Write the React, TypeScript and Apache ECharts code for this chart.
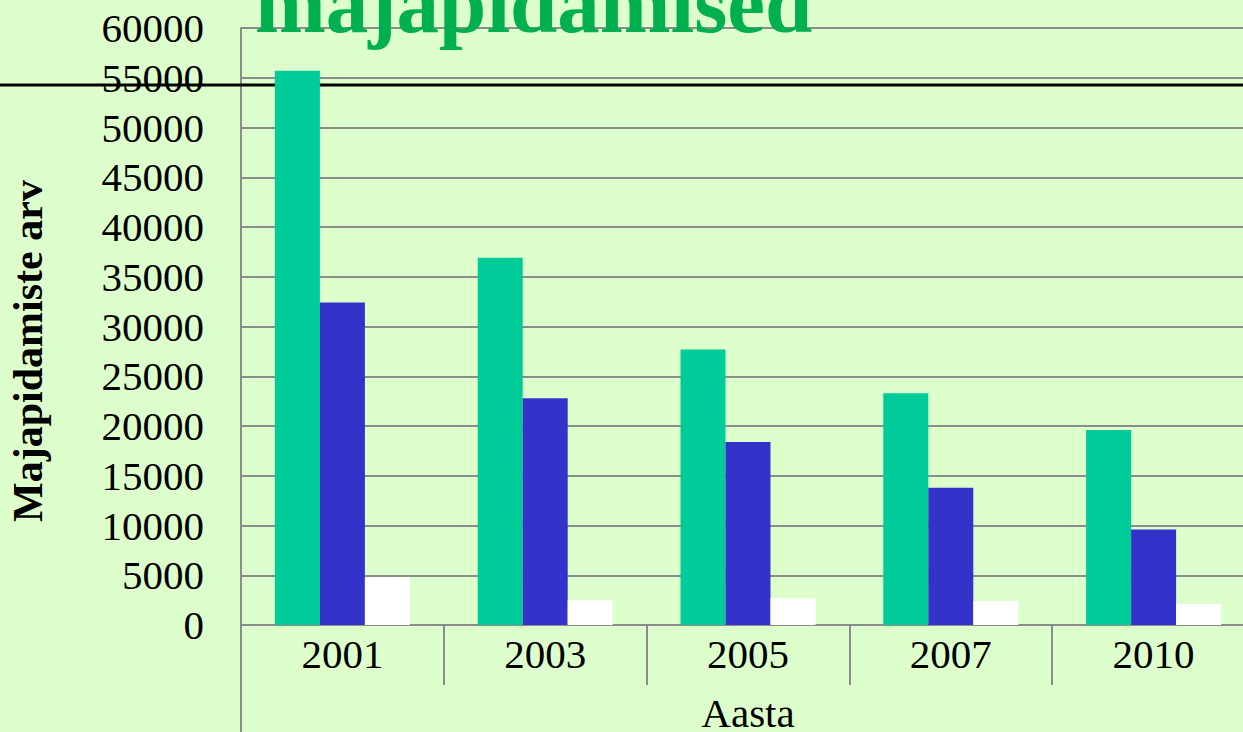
import React, { useEffect, useRef } from "react";
import * as echarts from "echarts";

const years = ["2001", "2003", "2005", "2007", "2010"];
const seriesGreen = [55700, 36900, 27700, 23300, 19600];
const seriesBlue = [32400, 22800, 18400, 13800, 9600];
const seriesWhite = [4800, 2500, 2700, 2400, 2100];
const yTicks = { min: 0, max: 60000, interval: 5000 };

const FONT = "'Liberation Serif', 'Times New Roman', serif";

export default function App() {
  const ref = useRef<HTMLDivElement>(null);
  useEffect(() => {
    document.body.style.margin = "0";
    const chart = echarts.init(ref.current!, null, { renderer: "svg" });
    const gray = "#8c8c8c";
    chart.setOption({
      animation: false,
      backgroundColor: "#ddffcc",
      grid: { left: 241, top: 28, width: 1014, height: 597, containLabel: false, outerBoundsMode: "none" },
      xAxis: {
        type: "category",
        data: years,
        boundaryGap: true,
        axisLine: { show: true, lineStyle: { color: gray, width: 2 } },
        axisTick: { show: true, alignWithLabel: false, interval: 0, length: 60, lineStyle: { color: gray, width: 2 } },
        axisLabel: { color: "#000", fontFamily: FONT, fontSize: 41, margin: 8, interval: 0 },
        name: "Aasta",
        nameLocation: "middle",
        nameGap: 67,
        nameTextStyle: { color: "#000", fontFamily: FONT, fontSize: 41 },
      },
      yAxis: {
        type: "value",
        min: yTicks.min,
        max: yTicks.max,
        interval: yTicks.interval,
        axisLine: { show: true, lineStyle: { color: gray, width: 2 } },
        axisTick: { show: false },
        splitLine: { show: true, lineStyle: { color: gray, width: 2 } },
        axisLabel: { color: "#000", fontFamily: FONT, fontSize: 41, margin: 37, formatter: (v: number) => String(v) },
      },
      graphic: [
        {
          type: "line",
          z: 1,
          shape: { x1: 0, y1: 85, x2: 1243, y2: 85 },
          style: { stroke: "#000", lineWidth: 3 },
        },
        {
          type: "line",
          z: 1,
          shape: { x1: 241, y1: 625, x2: 241, y2: 732 },
          style: { stroke: gray, lineWidth: 2 },
        },
        {
          type: "text",
          z: 100,
          x: 255,
          y: 3,
          style: {
            text: "majapidamised",
            fill: "#00b050",
            font: `bold 85px ${FONT}`,
            textAlign: "left",
            textVerticalAlign: "middle",
          },
        },
        {
          type: "text",
          z: 100,
          x: 28,
          y: 351,
          rotation: Math.PI / 2,
          style: {
            text: "Majapidamiste arv",
            fill: "#000",
            font: `bold 42px ${FONT}`,
            textAlign: "center",
            textVerticalAlign: "middle",
          },
        },
      ],
      series: [
        { name: "Seeria 1", type: "bar", data: seriesGreen, barWidth: 45, barGap: "0%", itemStyle: { color: "#00cc99" }, z: 5 },
        { name: "Seeria 2", type: "bar", data: seriesBlue, barWidth: 45, barGap: "0%", itemStyle: { color: "#3333cc" }, z: 5 },
        { name: "Seeria 3", type: "bar", data: seriesWhite, barWidth: 45, barGap: "0%", itemStyle: { color: "#ffffff" }, z: 5 },
      ],
    });
    return () => chart.dispose();
  }, []);
  return <div ref={ref} style={{ width: 1243, height: 732 }} />;
}
